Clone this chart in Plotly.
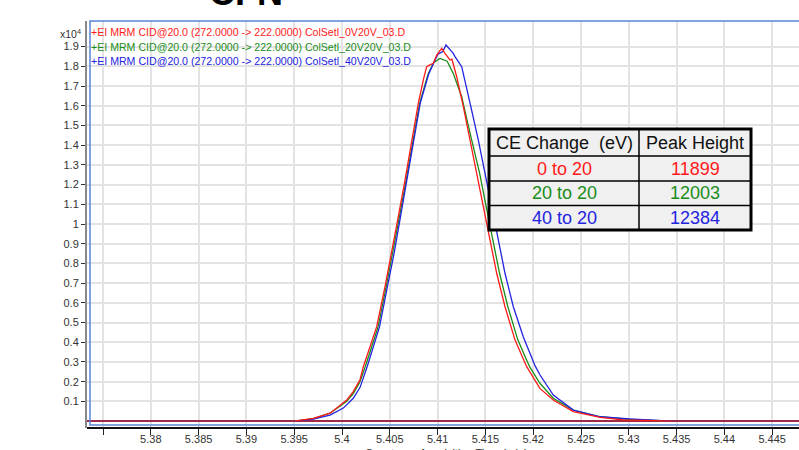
import plotly.graph_objects as go

# Retention time (min) and abundance (x10^4 counts) for each MRM trace
t_0v = [5.395, 5.397, 5.39875, 5.4005, 5.40118, 5.40188, 5.40223, 5.40363, 5.4045, 5.4052,
        5.40589, 5.40659, 5.40729, 5.40798, 5.40855, 5.40886, 5.4092, 5.40955, 5.40991, 5.41043,
        5.41077, 5.4113, 5.4115, 5.4120, 5.41269, 5.4134, 5.4141, 5.41478, 5.41548, 5.41618,
        5.41705, 5.4181, 5.41932, 5.4207, 5.4221, 5.4242, 5.4270, 5.4294, 5.4345]
y_0v = [0.0, 0.014, 0.04, 0.107, 0.15, 0.21, 0.276, 0.479, 0.682, 0.851,
        1.037, 1.223, 1.426, 1.612, 1.74, 1.798, 1.807, 1.815, 1.857, 1.891,
        1.866, 1.832, 1.836, 1.747, 1.595, 1.426, 1.257, 1.088, 0.919, 0.75,
        0.58, 0.411, 0.276, 0.166, 0.107, 0.048, 0.019, 0.006, 0.0]

t_20v = [5.395, 5.397, 5.39875, 5.4005, 5.40118, 5.40188, 5.40243, 5.40378, 5.40462, 5.40532,
         5.40601, 5.40671, 5.40742, 5.40812, 5.40900, 5.40960, 5.41025, 5.4106, 5.4110, 5.41164,
         5.41252, 5.4134, 5.4144, 5.41508, 5.41578, 5.41648, 5.41735, 5.4184, 5.41962, 5.4207,
         5.4221, 5.4242, 5.4270, 5.4300, 5.4345]
y_20v = [0.0, 0.013, 0.04, 0.10, 0.14, 0.20, 0.276, 0.479, 0.682, 0.851,
         1.037, 1.223, 1.426, 1.612, 1.76, 1.82, 1.84, 1.832, 1.826, 1.764,
         1.646, 1.46, 1.257, 1.088, 0.919, 0.75, 0.58, 0.411, 0.276, 0.192,
         0.116, 0.056, 0.022, 0.008, 0.0]

t_40v = [5.395, 5.397, 5.39875, 5.40014, 5.40118, 5.40188, 5.40263, 5.40393, 5.40475, 5.40545,
         5.40612, 5.40679, 5.40749, 5.40818, 5.40906, 5.4100, 5.41055, 5.41088, 5.4113, 5.41160,
         5.41182, 5.41252, 5.4134, 5.41426, 5.41496, 5.41566, 5.41635, 5.41705, 5.41792, 5.41896,
         5.4202, 5.4207, 5.4221, 5.4242, 5.4270, 5.4301, 5.4345]
y_40v = [0.0, 0.01, 0.03, 0.066, 0.116, 0.17, 0.276, 0.479, 0.682, 0.851,
         1.037, 1.223, 1.426, 1.612, 1.76, 1.86, 1.875, 1.908, 1.885, 1.868,
         1.849, 1.798, 1.612, 1.426, 1.257, 1.088, 0.919, 0.75, 0.58, 0.428,
         0.28, 0.235, 0.132, 0.056, 0.022, 0.011, 0.0]

trace_names = [
    "+EI MRM CID@20.0 (272.0000 -> 222.0000) ColSetl_0V20V_03.D",
    "+EI MRM CID@20.0 (272.0000 -> 222.0000) ColSetl_20V20V_03.D",
    "+EI MRM CID@20.0 (272.0000 -> 222.0000) ColSetl_40V20V_03.D",
]
colors = ["#ff1a1a", "#1a8c1a", "#2323e0"]

# Summary table
ce_change = ["0 to 20", "20 to 20", "40 to 20"]
peak_height = ["11899", "12003", "12384"]

x_ticks = [5.375, 5.38, 5.385, 5.39, 5.395, 5.4, 5.405, 5.41, 5.415, 5.42,
           5.425, 5.43, 5.435, 5.44, 5.445]
x_ticktext = ["", "5.38", "5.385", "5.39", "5.395", "5.4", "5.405", "5.41", "5.415",
              "5.42", "5.425", "5.43", "5.435", "5.44", "5.445"]
y_ticks = [0.1, 0.2, 0.3, 0.4, 0.5, 0.6, 0.7, 0.8, 0.9, 1.0,
           1.1, 1.2, 1.3, 1.4, 1.5, 1.6, 1.7, 1.8, 1.9]
y_ticktext = ["0.1", "0.2", "0.3", "0.4", "0.5", "0.6", "0.7", "0.8", "0.9", "1",
              "1.1", "1.2", "1.3", "1.4", "1.5", "1.6", "1.7", "1.8", "1.9"]

W, H = 799, 450
L, R, T, B = 87, 0, 21, 22
PW, PH = W - L - R, H - T - B


def px(x):
    return (x - L) / PW


def py(y):
    return (H - B - y) / PH


FONT = "Arial, Liberation Sans, sans-serif"

fig = go.Figure()
series = [(t_20v, y_20v, 1), (t_40v, y_40v, 2), (t_0v, y_0v, 0)]
for t, y, i in series:
    fig.add_trace(go.Scatter(x=t, y=y, mode="lines", name=trace_names[i],
                             line=dict(color=colors[i], width=1.3), showlegend=False))

shapes = []
annotations = []

# plot frame (blue), offset x axis line
shapes.append(dict(type="rect", xref="paper", yref="paper", x0=px(90), x1=px(803),
                   y0=py(425), y1=py(21), line=dict(color="#5b84d6", width=1.5)))
shapes.append(dict(type="line", xref="paper", yref="paper", x0=0, x1=1, y0=0, y1=0,
                   line=dict(color="#111111", width=2)))

# trace labels
for i, name in enumerate(trace_names):
    annotations.append(dict(xref="paper", yref="paper", x=px(89), y=py(32.5 + 14.5 * i),
                            xanchor="left", yanchor="middle", showarrow=False, text=name,
                            font=dict(family=FONT, size=10.6, color=colors[i])))

annotations.append(dict(xref="paper", yref="paper", x=px(83), y=py(33), xanchor="right",
                        yanchor="middle", showarrow=False, text="x10<sup>4</sup>",
                        font=dict(family=FONT, size=10.5, color="#333333")))

# heading, mostly above the visible page
annotations.append(dict(xref="paper", yref="paper", x=px(246), y=py(-8), xanchor="center",
                        yanchor="middle", showarrow=False, text="<b>CFN</b>",
                        font=dict(family=FONT, size=36, color="#000000")))

# axis title
annotations.append(dict(xref="paper", yref="paper", x=px(446), y=py(453), xanchor="center",
                        yanchor="middle", showarrow=False, text="Counts vs. Acquisition Time (min)",
                        font=dict(family=FONT, size=11, color="#333333")))

# table
tx0, tx1, tmid = 489, 751, 639
row_edges = [129, 156, 181, 205.5, 230]
shapes.append(dict(type="rect", xref="paper", yref="paper", x0=px(tx0), x1=px(tx1),
                   y0=py(row_edges[-1]), y1=py(row_edges[0]), fillcolor="#f0f0f0",
                   line=dict(color="#000000", width=3), layer="above"))
for ry in row_edges[1:-1]:
    shapes.append(dict(type="line", xref="paper", yref="paper", x0=px(tx0), x1=px(tx1),
                       y0=py(ry), y1=py(ry), line=dict(color="#000000", width=1.5)))
shapes.append(dict(type="line", xref="paper", yref="paper", x0=px(tmid), x1=px(tmid),
                   y0=py(row_edges[-1]), y1=py(row_edges[0]), line=dict(color="#000000", width=1.5)))

col_centers = [(tx0 + tmid) / 2, (tmid + tx1) / 2]
header = ["CE Change\u00a0 (eV)", "Peak Height"]
for c, h in enumerate(header):
    annotations.append(dict(xref="paper", yref="paper", x=px(col_centers[c]),
                            y=py((row_edges[0] + row_edges[1]) / 2), xanchor="center",
                            yanchor="middle", showarrow=False, text=h,
                            font=dict(family=FONT, size=18, color="#111111")))
for r in range(3):
    yc = py((row_edges[r + 1] + row_edges[r + 2]) / 2)
    for c, txt in enumerate([ce_change[r], peak_height[r]]):
        annotations.append(dict(xref="paper", yref="paper", x=px(col_centers[c]), y=yc,
                                xanchor="center", yanchor="middle", showarrow=False, text=txt,
                                font=dict(family=FONT, size=18, color=colors[r])))

y_lo = -(H - B - 421.1) / 197.1
y_hi = (421.1 - T) / 197.1
x_lo = 5.41 + (L - 437.6) / 9560
x_hi = 5.41 + (W - 437.6) / 9560

fig.update_layout(
    width=W, height=H,
    margin=dict(l=L, r=R, t=T, b=B),
    paper_bgcolor="#ffffff", plot_bgcolor="#ffffff",
    shapes=shapes, annotations=annotations,
    xaxis=dict(range=[x_lo, x_hi], tickvals=x_ticks, ticktext=x_ticktext,
               showgrid=True, gridcolor="#e3e3e3", gridwidth=1.5,
               ticks="outside", ticklen=6, tickcolor="#222222", tickwidth=1,
               ticklabelstandoff=-5,
               showline=False, zeroline=False,
               tickfont=dict(family=FONT, size=11, color="#333333")),
    yaxis=dict(range=[y_lo, y_hi], tickvals=y_ticks, ticktext=y_ticktext,
               showgrid=True, gridcolor="#e3e3e3", gridwidth=1.5,
               ticks="outside", ticklen=4, tickcolor="#333333", tickwidth=1,
               showline=True, linecolor="#888888", linewidth=2,
               zeroline=True, zerolinecolor="#9c2a48", zerolinewidth=2,
               tickfont=dict(family=FONT, size=11, color="#333333")),
)

fig.write_html("out.html")
